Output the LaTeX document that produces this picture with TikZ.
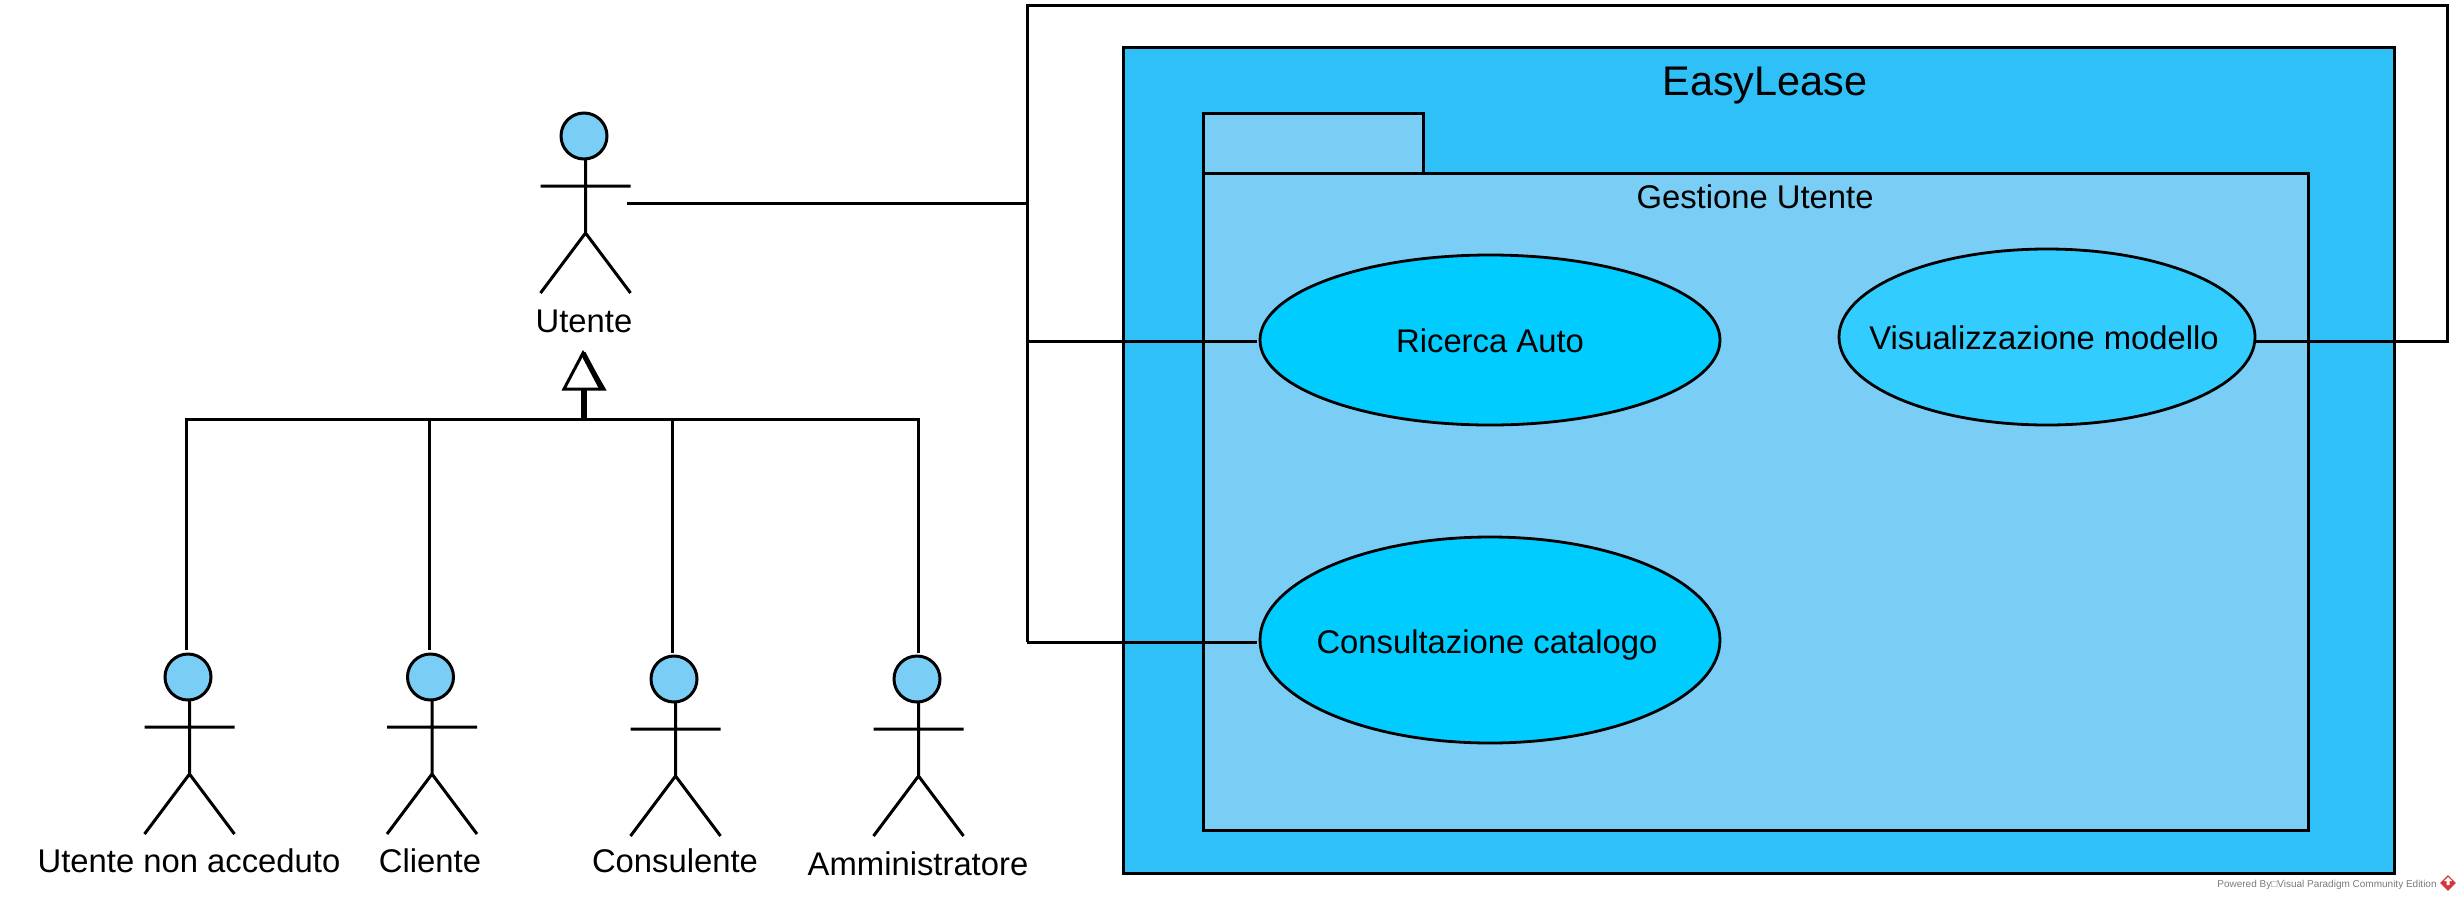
\documentclass[tikz,border=0pt]{standalone}
\usepackage{fontspec}
\setmainfont{Liberation Sans}
\usetikzlibrary{shapes.geometric}
\definecolor{outerblue}{HTML}{30C0F8}
\definecolor{innerblue}{HTML}{7ACEF5}
\definecolor{caseA}{HTML}{00CCFF}
\definecolor{caseB}{HTML}{33CCFF}
\definecolor{vpgray}{HTML}{7A7A7A}
\definecolor{vpred}{HTML}{D8343A}
\tikzset{
  x=0.5pt,y=-0.5pt,
  ln/.style={line width=1.5pt,black,line cap=butt},
  box/.style={line width=1.5pt,draw=black,line join=miter,outer sep=0pt,inner sep=0pt,anchor=north west},
  usecase/.style={ellipse,draw=black,line width=1.4pt,inner sep=0pt,outer sep=0pt,text depth=0pt,font=\fontsize{16.4pt}{18pt}\selectfont},
  lab/.style={anchor=base,inner sep=0pt,font=\fontsize{16.4pt}{18pt}\selectfont},
  actor/.pic={
    \node[circle,draw=black,fill=innerblue,line width=1.5pt,minimum size=23pt,inner sep=0pt] (-head) at (-1.5,0) {};
    \draw[ln] (0,23) -- (0,97) (-45,50) -- (45,50) (-45,157) -- (0,97) -- (45,157);
  }
}
\begin{document}
\begin{tikzpicture}
\useasboundingbox (0,0) rectangle (2460,900);
% system boundary and package
\node[box,fill=outerblue,minimum width=635.5pt,minimum height=413pt] (sys) at (1123,47) {};
\node[anchor=base,inner sep=0pt,font=\fontsize{20.7pt}{24pt}\selectfont] (sysname) at (1765,95) {EasyLease};
\node[box,fill=innerblue,minimum width=110pt,minimum height=30pt] (tab) at (1203,113) {};
\node[box,fill=innerblue,minimum width=552.5pt,minimum height=328.5pt] (pkg) at (1203,173) {};
\node[lab] (pkgname) at (1755,208) {Gestione Utente};
% use cases
\node[usecase,fill=caseA,minimum width=230pt,minimum height=85pt,text height=12.5pt] (ric) at (1490,340) {\makebox[0pt]{Ricerca Auto}};
\node[usecase,fill=caseB,minimum width=208pt,minimum height=88pt,text height=12pt] (vis) at (2047,337) {\makebox[0pt]{Visualizzazione modello\kern 3pt}};
\node[usecase,fill=caseA,minimum width=230pt,minimum height=103pt,text height=13pt] (con) at (1490,640) {\makebox[0pt]{Consultazione catalogo\kern 3pt}};
% actors
\pic (ut) at (585.5,136) {actor};
\pic (nac) at (189.5,677) {actor};
\pic (cli) at (432,677) {actor};
\pic (cns) at (675.5,679) {actor};
\pic (amm) at (918.5,679) {actor};
\node[lab] (utl) at (584,332) {Utente};
\node[lab] (nacl) at (189,872) {Utente non acceduto};
\node[lab] (clil) at (430,872) {Cliente};
\node[lab] (cnsl) at (675,872) {Consulente};
\node[lab] (amml) at (918,875) {Amministratore};
% association connectors
\coordinate (utend) at (627,203);
\coordinate (trtop) at (1027,5);
\coordinate (tru) at (1027,203);
\coordinate (trr) at (1027,341);
\coordinate (trc) at (1027,642);
\coordinate (rttop) at (2447,5);
\coordinate (rtdown) at (2447,341);
\draw[ln] (utend) -- (tru);
\draw[ln,line join=miter] (trc) -- (trtop) -- (rttop) -- (rtdown) -- (vis.east |- rtdown);
\draw[ln,shorten >=1.5pt] (trr) -- (ric.west |- trr);
\draw[ln,shorten >=1.5pt] (trc) -- (con.west |- trc);
% generalisation
\coordinate (apex) at (583,353);
\coordinate (tl) at (564,389);
\coordinate (tr) at (604,389);
\coordinate (ah) at (584,389);
\coordinate (j) at (584,419);
\draw[line width=3pt] (ah) -- (j);
\draw[ln,fill=white,line join=miter] (apex) -- (tr) -- (tl) -- cycle;
\draw[line width=2.6pt] (apex) -- ([xshift=-1pt]tr);
\coordinate (g1) at (186,419);
\coordinate (g2) at (429,419);
\coordinate (g3) at (672,419);
\coordinate (g4) at (918,419);
\draw[ln] ([xshift=-0.75pt]g1) -- ([xshift=0.75pt]g4);
\draw[ln] (g1) -- (g1 |- 0,650);
\draw[ln] (g2) -- (g2 |- 0,650);
\draw[ln] (g3) -- (g3 |- 0,653);
\draw[ln] (g4) -- (g4 |- 0,653);
% watermark
\node[anchor=base east,inner sep=0pt,text=vpgray,font=\fontsize{5pt}{6pt}\selectfont] (wm) at (2437,887) {Powered By□Visual Paradigm Community Edition};
\node[diamond,fill=vpred,minimum size=8pt,inner sep=0pt] (logo) at (2448,883) {};
\fill[white] (2448,877) -- (2452,881) -- (2449.5,881) -- (2449.5,885) -- (2446.5,885) -- (2446.5,881) -- (2444,881) -- cycle;
\end{tikzpicture}
\end{document}
